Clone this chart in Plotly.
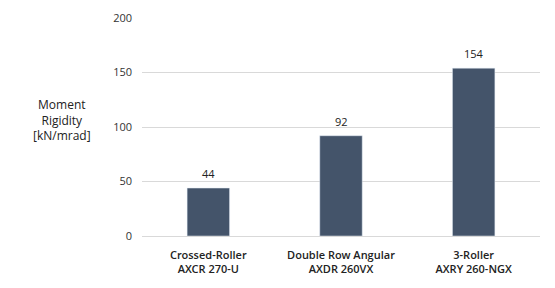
import plotly.graph_objects as go

categories = ["Crossed-Roller<br>AXCR 270-U",
              "Double Row Angular<br>AXDR 260VX",
              "3-Roller<br>AXRY 260-NGX"]
values = [44, 92, 154]
y_ticks = [0, 50, 100, 150, 200]

font_family = "Open Sans, Liberation Sans, sans-serif"

fig = go.Figure(go.Bar(
    x=categories, y=values,
    marker=dict(color="#44546A"),
    width=0.32,
    hoverinfo="skip",
))

for c, v in zip(categories, values):
    fig.add_annotation(x=c, y=v, text=str(v), showarrow=False,
                       yanchor="bottom", yshift=5,
                       font=dict(size=11, color="#222222", family=font_family))

fig.update_layout(
    width=555, height=288,
    margin=dict(l=142, r=15, t=10, b=52),
    paper_bgcolor="white", plot_bgcolor="white",
    showlegend=False,
    font=dict(family=font_family, size=11, color="#333333"),
    xaxis=dict(showline=False, ticks="", showgrid=False,
               ticklabelstandoff=11,
               tickfont=dict(size=11, color="#222222",
                             family="Open Sans SemiBold, Open Sans, sans-serif",
                             weight=600)),
    yaxis=dict(range=[0, 200], tickvals=y_ticks, showgrid=True,
               gridcolor="#D9D9D9", gridwidth=1, zeroline=True,
               zerolinecolor="#D9D9D9", zerolinewidth=1,
               ticks="", ticklabelstandoff=9,
               tickfont=dict(size=11, color="#333333")),
)
fig.add_annotation(
    text="Moment<br>Rigidity<br>[kN/mrad]",
    xref="paper", yref="paper", x=-0.2, y=0.53,
    xanchor="center", yanchor="middle", showarrow=False,
    font=dict(size=12, color="#222222", family=font_family),
)

fig.write_html("out.html")
